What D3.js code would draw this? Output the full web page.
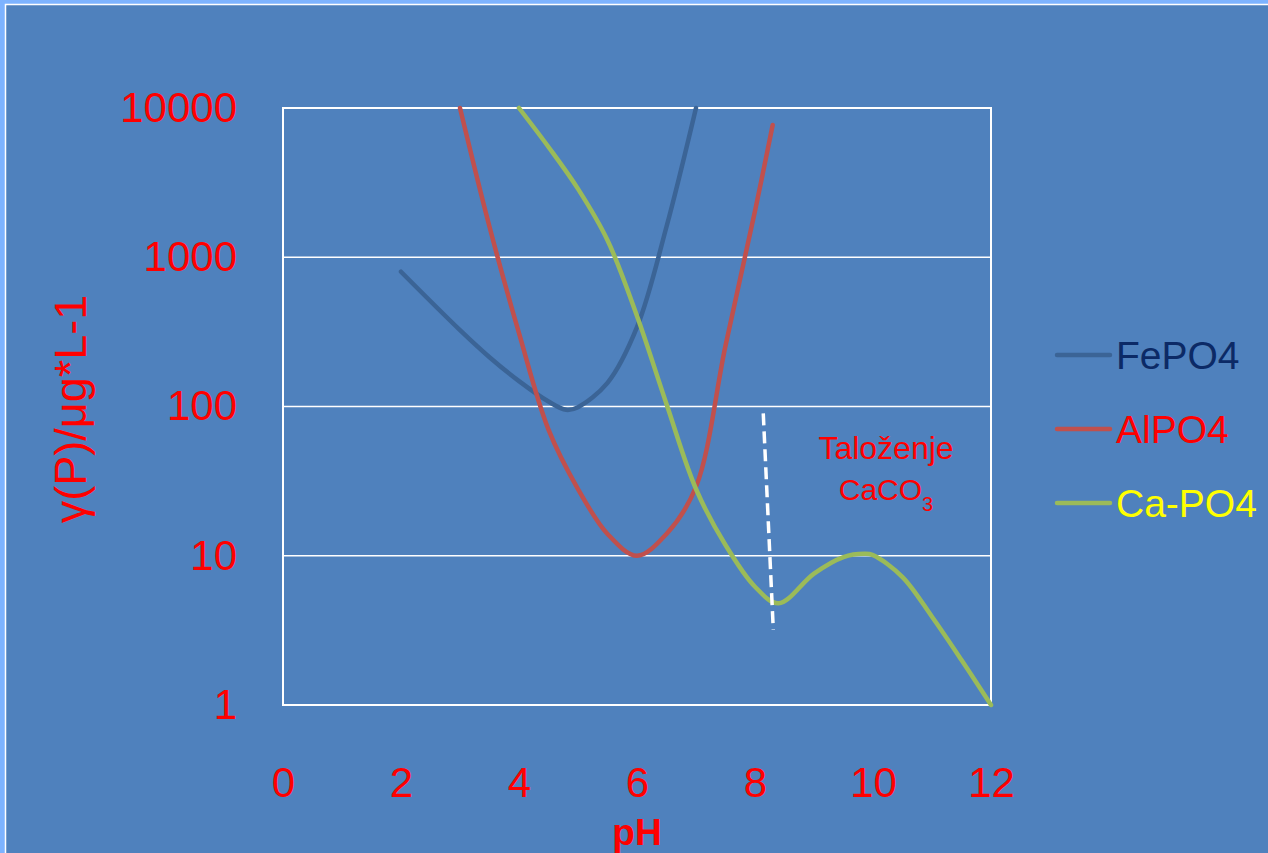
<!DOCTYPE html>
<html>
<head>
<meta charset="utf-8">
<script src="https://cdn.jsdelivr.net/npm/d3@7"></script>
<style>
  body { margin: 0; overflow: hidden; background: #7db3ff; }
  text { font-family: 'Liberation Sans', Arial, sans-serif; }
</style>
</head>
<body>
<svg id="chart" width="1268" height="853"></svg>
<script>
// pH values and concentrations
var fePH  = [2, 3, 3.5, 4, 4.5, 4.8, 5, 5.5, 6, 6.5, 7];
var feVal = [800, 325, 214, 148, 108, 95, 99, 144, 340, 1600, 10000];

var alPH  = [3, 3.5, 4, 4.5, 5, 5.5, 6, 6.5, 7, 7.5, 8, 8.3];
var alVal = [10000, 1600, 310, 70, 28, 14, 10, 14, 29, 255, 2040, 7700];

var caPH  = [4, 4.5, 5, 5.5, 6, 6.5, 7, 7.5, 8, 8.4, 9, 9.5, 9.85, 10, 10.5, 11, 11.5, 12];
var caVal = [10000, 5480, 2870, 1300, 404, 104, 28, 11.8, 6.2, 4.8, 7.6, 9.8, 10.3, 10.1, 7.2, 3.9, 2.0, 1];

// dashed marker line (CaCO3 precipitation)
var dashPH  = [8.14, 8.31];
var dashVal = [90, 3.2];

var xTicks = [0, 2, 4, 6, 8, 10, 12];
var yTicks = [1, 10, 100, 1000, 10000];
var gridVals = [10, 100, 1000];

var seriesNames = ["FePO4", "AlPO4", "Ca-PO4"];

var svg = d3.select("#chart");

var cfg = {
  left: 283, right: 991, top: 108, bottom: 705,
  lineW: 4.5
};

var x = d3.scaleLinear().domain([0, 12]).range([cfg.left, cfg.right]);
var y = d3.scaleLog().domain([1, 10000]).range([cfg.bottom, cfg.top]);

// slide background
svg.append("rect")
  .attr("x", 5.5).attr("y", 4.5)
  .attr("width", 1400).attr("height", 1000)
  .attr("fill", "#4f81bd")
  .attr("stroke", "#ffffff")
  .attr("stroke-width", 1.5);

// gridlines
svg.selectAll(".grid")
  .data(gridVals)
  .enter()
  .append("line")
  .attr("x1", cfg.left).attr("x2", cfg.right)
  .attr("y1", function(d) { return y(d); })
  .attr("y2", function(d) { return y(d); })
  .attr("stroke", "#ffffff")
  .attr("stroke-width", 1.5);

// plot border
svg.append("rect")
  .attr("x", cfg.left).attr("y", cfg.top)
  .attr("width", cfg.right - cfg.left)
  .attr("height", cfg.bottom - cfg.top)
  .attr("fill", "none")
  .attr("stroke", "#ffffff")
  .attr("stroke-width", 2);

// axes
var yAxis = svg.append("g")
  .attr("transform", "translate(" + cfg.left + ",0)")
  .call(d3.axisLeft(y).tickValues(yTicks).tickFormat(d3.format("d")).tickSize(0).tickPadding(46));
var xAxis = svg.append("g")
  .attr("transform", "translate(0," + cfg.bottom + ")")
  .call(d3.axisBottom(x).tickValues(xTicks).tickFormat(d3.format("d")).tickSize(0).tickPadding(62));

[yAxis, xAxis].forEach(function(a) {
  a.select(".domain").remove();
  a.selectAll("text")
    .attr("fill", "#ff0000")
    .style("font-size", "42px")
    .style("font-family", "'Liberation Sans', Arial, sans-serif");
});

// axis titles
svg.append("text")
  .attr("x", 637).attr("y", 845)
  .attr("text-anchor", "middle")
  .attr("fill", "#ff0000")
  .style("font-size", "37px")
  .style("font-weight", "bold")
  .text("pH");

svg.append("text")
  .attr("transform", "translate(86,409) rotate(-90)")
  .attr("text-anchor", "middle")
  .attr("fill", "#ff0000")
  .style("font-size", "45px")
  .text("γ(P)/μg*L-1");

// series
var line = d3.line()
  .x(function(d) { return x(d[0]); })
  .y(function(d) { return y(d[1]); })
  .curve(d3.curveCatmullRom);

var series = [
  { name: seriesNames[0], pts: d3.zip(fePH, feVal), color: "#3b6496", text: "#0c2a66" },
  { name: seriesNames[1], pts: d3.zip(alPH, alVal), color: "#c0504d", text: "#ff0000" },
  { name: seriesNames[2], pts: d3.zip(caPH, caVal), color: "#9bbb59", text: "#ffff00" }
];

series.forEach(function(s) {
  svg.append("path")
    .datum(s.pts)
    .attr("d", line)
    .attr("fill", "none")
    .attr("stroke", s.color)
    .attr("stroke-width", cfg.lineW)
    .attr("stroke-linecap", "round")
    .attr("stroke-linejoin", "round");
});

// dashed line
svg.append("line")
  .attr("x1", x(dashPH[0])).attr("y1", y(dashVal[0]))
  .attr("x2", x(dashPH[1])).attr("y2", y(dashVal[1]))
  .attr("stroke", "#ffffff")
  .attr("stroke-width", 3.5)
  .attr("stroke-dasharray", "12,6");

// annotation
svg.append("text")
  .attr("x", 886).attr("y", 459)
  .attr("text-anchor", "middle")
  .attr("fill", "#ff0000")
  .style("font-size", "32px")
  .text("Taloženje");

var ann = svg.append("text")
  .attr("x", 886).attr("y", 500)
  .attr("text-anchor", "middle")
  .attr("fill", "#ff0000")
  .style("font-size", "30px");
ann.append("tspan").text("CaCO");
ann.append("tspan").attr("dy", 11).style("font-size", "20px").text("3");

// legend
var legend = svg.selectAll(".legend")
  .data(series)
  .enter()
  .append("g")
  .attr("transform", function(d, i) { return "translate(1057," + (355 + i * 74) + ")"; });

legend.append("line")
  .attr("x1", 0).attr("x2", 53)
  .attr("stroke", function(d) { return d.color; })
  .attr("stroke-width", cfg.lineW)
  .attr("stroke-linecap", "round");

legend.append("text")
  .attr("x", 59).attr("y", 14)
  .attr("fill", function(d) { return d.text; })
  .style("font-size", "39px")
  .text(function(d) { return d.name; });
</script>
</body>
</html>
